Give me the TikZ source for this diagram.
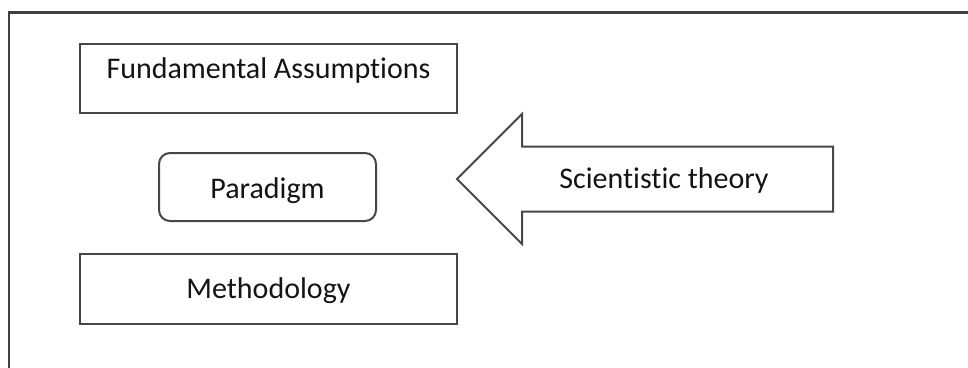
\documentclass[tikz,border=0pt]{standalone}
\usepackage{fontspec}
\setmainfont{Carlito}[Ligatures={NoCommon}]
\begin{document}
\begin{tikzpicture}[x=1pt,y=-1pt,
  line width=2pt,
  ink/.style={draw=black!72},
  lbl/.style={font=\fontsize{30}{36}\selectfont, text=black!92},
  box/.style={ink, lbl, rectangle, inner ysep=0pt, inner xsep=0pt, anchor=base},
]
\useasboundingbox (0,0) rectangle (968,367);
\clip (0,0) rectangle (968,367);

% outer frame: only its top and left edges fall inside the page
\draw[draw=black!75, line width=2.6pt] (9,380) -- (9,12.5) -- (980,12.5);

% the three stacked boxes
\node[box, minimum width=377pt, text height=34pt, text depth=35pt]
  (fa) at (268.5,78) {Fundamental Assumptions};
\node[box, rounded corners=11pt, minimum width=217pt, text height=45pt, text depth=23pt]
  (par) at (267.5,198) {Paradigm};
\node[box, minimum width=377pt, text height=44pt, text depth=25.5pt]
  (meth) at (268.5,298) {Methodology};

% block arrow pointing left
\draw[ink, line join=miter] (457,179) -- (522,114) -- (522,146.5) -- (833,146.5)
  -- (833,211.5) -- (522,211.5) -- (522,244) -- cycle;
\node[lbl, anchor=base] (sci) at (664,188) {Scientistic theory};
\end{tikzpicture}
\end{document}
